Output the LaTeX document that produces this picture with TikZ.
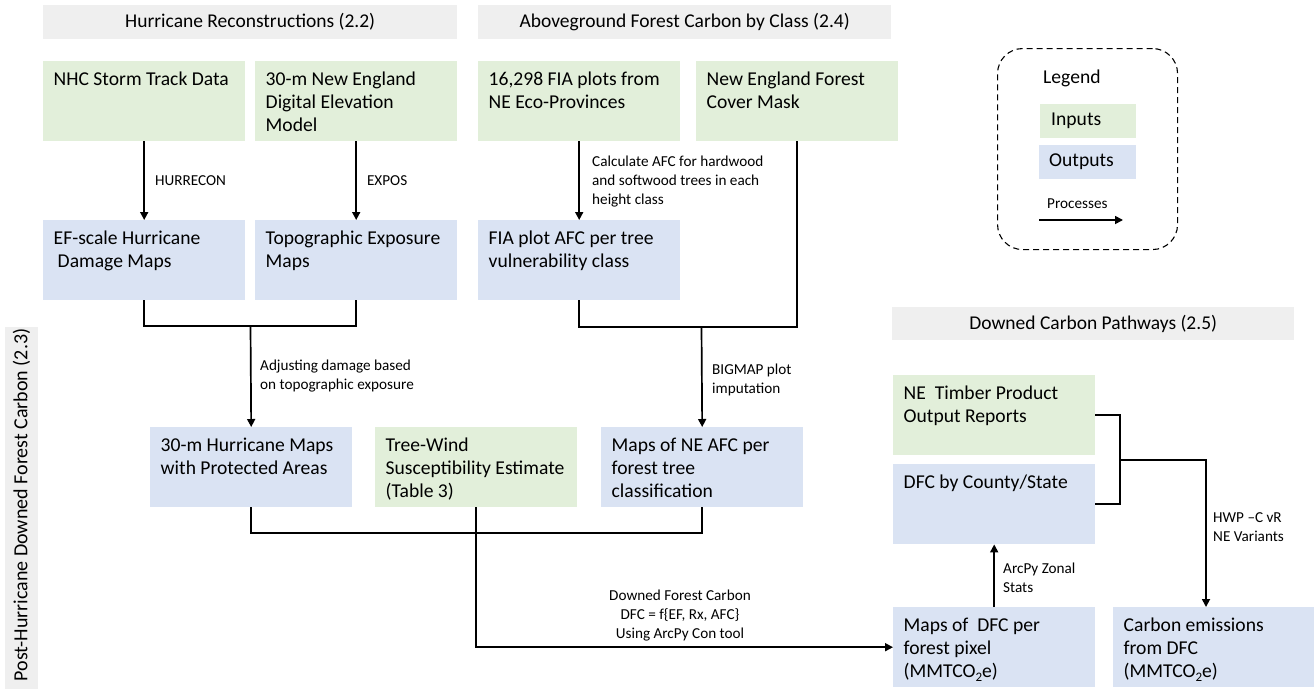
\documentclass[tikz,border=0pt]{standalone}
\usepackage{fontspec}
\setmainfont{Carlito}
\usetikzlibrary{arrows.meta,calc}
\definecolor{ingreen}{HTML}{E2EFDA}
\definecolor{outblue}{HTML}{DAE3F3}
\definecolor{hdrgray}{HTML}{EFEFEF}
\newcommand\bxt[1]{\begin{minipage}[t][64pt][t]{181pt}\raggedright\strut #1\end{minipage}}
\newcommand\subtwo{\raisebox{-4pt}{\fontsize{13}{13}\selectfont 2}}
\begin{document}
\begin{tikzpicture}[x=1pt,y=1pt,
 boxbase/.style={anchor=north west, inner xsep=10.5pt, inner ysep=8pt, minimum width=202pt, minimum height=80pt, font=\fontsize{19.6}{23}\selectfont},
 inbox/.style={boxbase, fill=ingreen},
 outbox/.style={boxbase, fill=outblue},
 hdr/.style={fill=hdrgray, minimum height=34pt, inner sep=0pt, font=\fontsize{19.5}{22}\selectfont},
 lbl/.style={align=left, anchor=west, inner sep=0pt, font=\fontsize{15.2}{19}\selectfont},
 conn/.style={line width=1.7pt},
 arr/.style={conn, -{Triangle[length=8pt,width=8pt]}},
]
\useasboundingbox (0,0) rectangle (1314,-689);

% headers
\node[hdr, anchor=north west, minimum width=414pt] (h22) at (43,-5) {Hurricane Reconstructions (2.2)};
\node[hdr, anchor=north west, minimum width=413pt] (h24) at (478,-5) {Aboveground Forest Carbon by Class (2.4)};
\node[hdr, anchor=north west, minimum width=402pt, minimum height=33pt] (h25) at (892,-307) {Downed Carbon Pathways (2.5)};
\node[hdr, rotate=90, minimum width=362pt, minimum height=33pt, font=\fontsize{20}{22}\selectfont] (h23) at (21.5,-508) {\raisebox{0pt}[0pt][0pt]{}\hspace*{6pt}Post-Hurricane Downed Forest Carbon (2.3)};

% row 1
\node[inbox] (nhc) at (43,-61) {\bxt{NHC Storm Track Data}};
\node[inbox] (dem) at (255,-61) {\bxt{30-m New England\\Digital Elevation\\Model}};
\node[inbox] (fia) at (478,-61) {\bxt{16,298 FIA plots from\\NE Eco-Provinces}};
\node[inbox] (mask) at (696,-61) {\bxt{New England Forest\\Cover Mask}};

% row 2
\node[outbox] (ef) at (43,-220) {\bxt{EF-scale Hurricane\\\hspace*{4pt}Damage Maps}};
\node[outbox] (topo) at (255,-220) {\bxt{Topographic Exposure\\Maps}};
\node[outbox] (fiaafc) at (478,-220) {\bxt{FIA plot AFC per tree\\vulnerability class}};

% row 3
\node[outbox] (hm) at (150,-427) {\bxt{30-m Hurricane Maps\\with Protected Areas}};
\node[inbox] (tw) at (375,-427) {\bxt{Tree-Wind\\Susceptibility Estimate\\(Table 3)}};
\node[outbox] (afcmap) at (601,-427) {\bxt{Maps of NE AFC per\\forest tree\\classification}};

% right column
\node[inbox] (timber) at (893,-375) {\bxt{NE\ \ Timber Product\\Output Reports}};
\node[outbox] (county) at (893,-464) {\bxt{DFC by County/State}};
\node[outbox] (dfcmap) at (893,-607) {\bxt{Maps of\ \ DFC per\\forest pixel\\(MMTCO\subtwo e)}};
\node[outbox] (em) at (1113,-607) {\bxt{Carbon emissions\\from DFC\\(MMTCO\subtwo e)}};

% legend
\node[draw, dashed, line width=1.1pt, dash pattern=on 6pt off 4pt, rounded corners=25pt, anchor=north west, minimum width=180pt, minimum height=201pt] (leg) at (997,-48) {};
\node[anchor=west, inner sep=0pt, font=\fontsize{19.6}{23}\selectfont] (legt) at (1043,-78) {Legend};
\node[fill=ingreen, anchor=north west, minimum width=96pt, minimum height=34pt, text width=74pt, inner xsep=11pt, font=\fontsize{19.6}{23}\selectfont] (legin) at (1040,-104) {Inputs};
\node[fill=outblue, anchor=north west, minimum width=97pt, minimum height=34pt, text width=77pt, inner xsep=10pt, font=\fontsize{19.6}{23}\selectfont] (legout) at (1039,-145) {Outputs};
\node[lbl] (legp) at (1047,-204) {Processes};
\coordinate (pa) at (1039,-220);
\coordinate (pb) at (1123,-220);
\draw[arr] (pa) -- (pb);

% connectors
\draw[arr] (nhc.south) -- node[lbl, right=10pt] {HURRECON} (ef.north);
\draw[arr] (dem.south) -- node[lbl, right=10pt] {EXPOS} (topo.north);
\draw[arr] (fia.south) -- (fiaafc.north);
\node[lbl] (calc) at (592,-182) {Calculate AFC for hardwood\\and softwood trees in each\\height class};

\coordinate (j1) at (250.5,-326);
\draw[conn] (ef.south) |- (j1) -| (topo.south);
\draw[arr] (j1) -- (hm.north);
\node[lbl] (adj) at (260,-376.5) {Adjusting damage based\\on topographic exposure};

\coordinate (j2) at (701.5,-327);
\draw[conn] (fiaafc.south) |- (j2) -| (mask.south);
\draw[arr] (j2) -- (afcmap.north);
\node[lbl] (big) at (712,-379.5) {BIGMAP plot\\imputation};

\coordinate (j3) at (476,-533);
\draw[conn] (hm.south) |- (j3) -| (afcmap.south);
\draw[arr] (tw.south) |- (dfcmap.west);
\node[lbl, align=center, anchor=center] (dfcl) at (680,-616) {Downed Forest Carbon\\DFC = f\{EF, Rx, AFC\}\\Using ArcPy Con tool};

\draw[arr] (dfcmap.north) -- (county.south);
\node[lbl] (zon) at (1003,-577.5) {ArcPy Zonal\\Stats};

\coordinate (j4) at (1120,-460);
\draw[conn] (timber.east) -| (j4) |- (county.east);
\coordinate (j5) at (1206,-460);
\draw[arr] (j4) -- (j5) -- (j5 |- em.north);
\node[lbl] (hwp) at (1213,-527.5) {HWP –C vR\\NE Variants};
\end{tikzpicture}
\end{document}
